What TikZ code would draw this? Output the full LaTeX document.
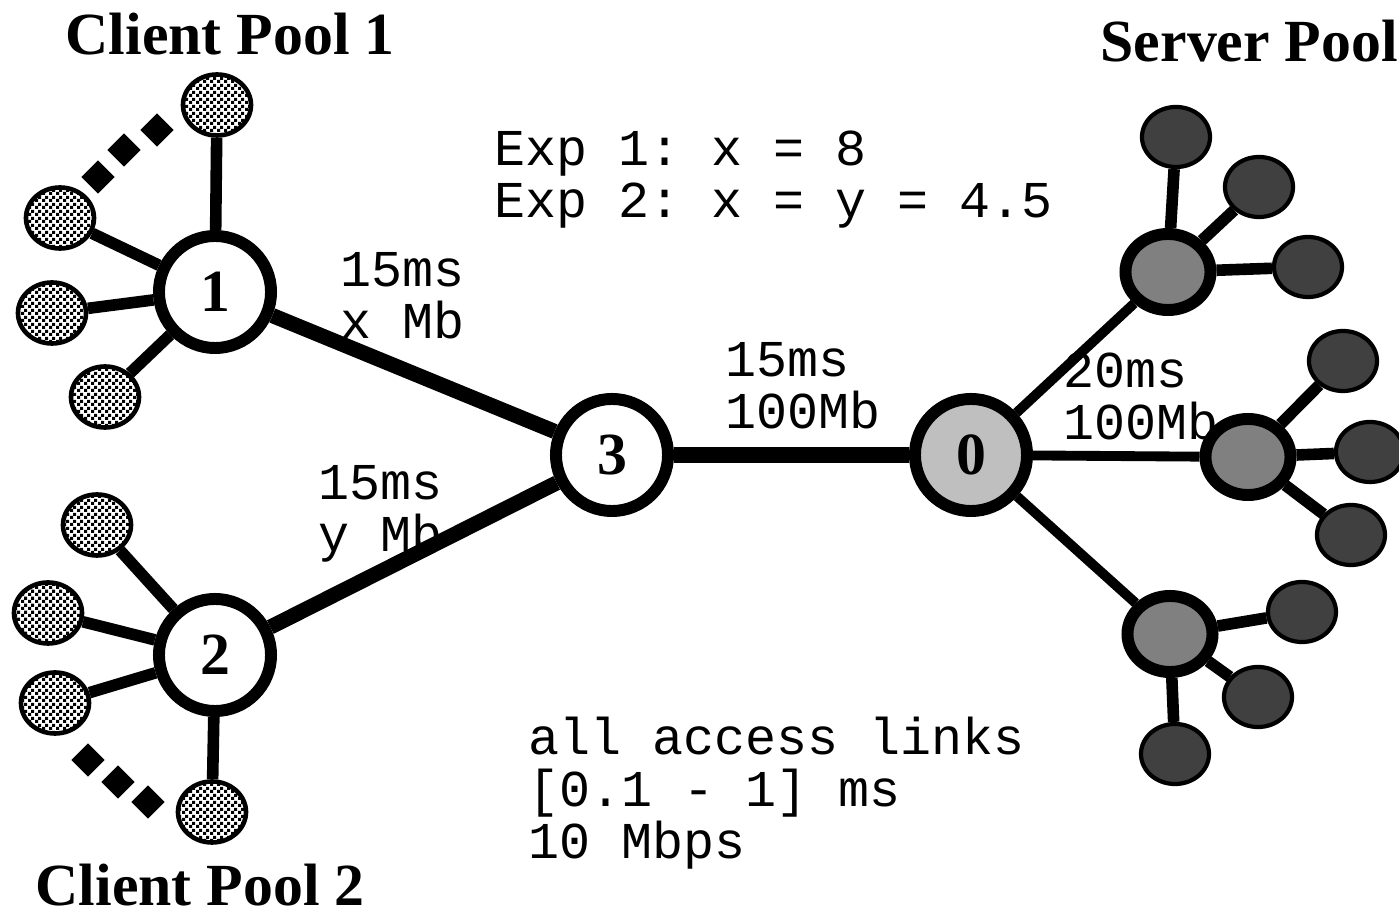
\documentclass[tikz,border=0pt]{standalone}
\usepackage{fontspec}
\setmainfont{Liberation Serif}
\setmonofont{Liberation Mono}
\usetikzlibrary{shapes.geometric}
\usetikzlibrary{patterns}

\pgfdeclarepatternformonly{dither}{\pgfqpoint{0pt}{0pt}}{\pgfqpoint{2pt}{2pt}}{\pgfqpoint{2pt}{2pt}}{
        \pgfpathrectangle{\pgfpointorigin}{\pgfqpoint{1pt}{1pt}}
        \pgfpathrectangle{\pgfqpoint{1pt}{1pt}}{\pgfqpoint{1pt}{1pt}}
        \pgfusepath{fill}
}

\begin{document}
\begin{tikzpicture}[x=0.01cm, y=-0.01cm,
        router/.style={circle, draw=black, line width=3.4pt, fill=white, minimum size=1.12cm, inner sep=0pt, font=\fontsize{17}{17}\selectfont\bfseries},
        srouter/.style={ellipse, draw=black, line width=3.4pt, fill=gray, minimum width=0.85cm, minimum height=0.76cm, inner sep=0pt},
        cleaf/.style={ellipse, draw=black, line width=1.3pt, pattern=dither, minimum width=0.68cm, minimum height=0.61cm, inner sep=0pt},
        sleaf/.style={ellipse, draw=black, line width=1.2pt, fill=black!75, minimum width=0.68cm, minimum height=0.6cm, inner sep=0pt},
        dotmark/.style={diamond, fill=black, minimum width=0.34cm, minimum height=0.34cm, inner sep=0pt},
        title/.style={font=\fontsize{17}{17}\selectfont\bfseries, inner sep=0pt, anchor=base west},
        mono/.style={font=\fontsize{14.7}{14.8}\selectfont\ttfamily, align=left, inner sep=0pt, anchor=north west},
        trunk/.style={line width=4.3pt},
        access/.style={line width=3.3pt}]
        \useasboundingbox (0, 0) rectangle (1399, 919);

        \node[title] (cp1) at (65, 55) {Client Pool 1};
        \node[title] (cp2) at (35, 906) {Client Pool 2};
        \node[title] (sp) at (1100, 62) {Server Pool};

        \node[mono] (exp) at (494, 130) {Exp 1: x = 8\\Exp 2: x = y = 4.5};
        \node[mono] (l13) at (340, 252) {15ms\\x Mb};
        \node[mono] (l23) at (318, 465) {15ms\\y Mb};
        \node[mono] (l30) at (725, 342) {15ms\\100Mb};
        \node[mono] (l0s) at (1063, 352) {20ms\\100Mb};
        \node[mono] (lacc) at (528, 716) {all access links\\{[}0.1 - 1{]} ms\\10 Mbps};

        \node[router] (n1) at (215, 292) {1};
        \node[router] (n2) at (215, 655) {2};
        \node[router] (n3) at (612, 455) {3};
        \node[router, fill=gray!50] (n0) at (971, 455) {0};

        \node[cleaf] (c1a) at (217, 105) {};
        \node[cleaf] (c1b) at (60, 218) {};
        \node[cleaf] (c1c) at (52, 313) {};
        \node[cleaf] (c1d) at (105, 397) {};
        \node[dotmark] (d1a) at (98, 177) {};
        \node[dotmark] (d1b) at (124, 150) {};
        \node[dotmark] (d1c) at (157, 130) {};

        \node[cleaf] (c2a) at (97, 525) {};
        \node[cleaf] (c2b) at (48, 613) {};
        \node[cleaf] (c2c) at (55, 703) {};
        \node[cleaf] (c2d) at (212, 812) {};
        \node[dotmark] (d2a) at (88, 760) {};
        \node[dotmark] (d2b) at (118, 782) {};
        \node[dotmark] (d2c) at (148, 802) {};

        \node[srouter] (s1) at (1168, 272) {};
        \node[srouter] (s2) at (1248, 457) {};
        \node[srouter] (s3) at (1170, 634) {};

        \node[sleaf] (s1a) at (1176, 137) {};
        \node[sleaf] (s1b) at (1259, 187) {};
        \node[sleaf] (s1c) at (1308, 267) {};
        \node[sleaf] (s2a) at (1343, 361) {};
        \node[sleaf] (s2b) at (1370, 452) {};
        \node[sleaf] (s2c) at (1351, 535) {};
        \node[sleaf] (s3a) at (1302, 612) {};
        \node[sleaf] (s3b) at (1258, 697) {};
        \node[sleaf] (s3c) at (1175, 754) {};

        \draw[trunk] (n1) -- (n3);
        \draw[trunk] (n2) -- (n3);
        \draw[trunk] (n3) -- (n0);
        \draw[line width=2.8pt] (n0) -- (s1);
        \draw[line width=2.8pt] (n0) -- (s2);
        \draw[line width=2.8pt] (n0) -- (s3);

        \draw[access] (n1) -- (c1a);
        \draw[access] (n1) -- (c1b);
        \draw[access] (n1) -- (c1c);
        \draw[access] (n1) -- (c1d);
        \draw[access] (n2) -- (c2a);
        \draw[access] (n2) -- (c2b);
        \draw[access] (n2) -- (c2c);
        \draw[access] (n2) -- (c2d);

        \draw[access] (s1) -- (s1a);
        \draw[access] (s1) -- (s1b);
        \draw[access] (s1) -- (s1c);
        \draw[access] (s2) -- (s2a);
        \draw[access] (s2) -- (s2b);
        \draw[access] (s2) -- (s2c);
        \draw[access] (s3) -- (s3a);
        \draw[access] (s3) -- (s3b);
        \draw[access] (s3) -- (s3c);
\end{tikzpicture}
\end{document}
